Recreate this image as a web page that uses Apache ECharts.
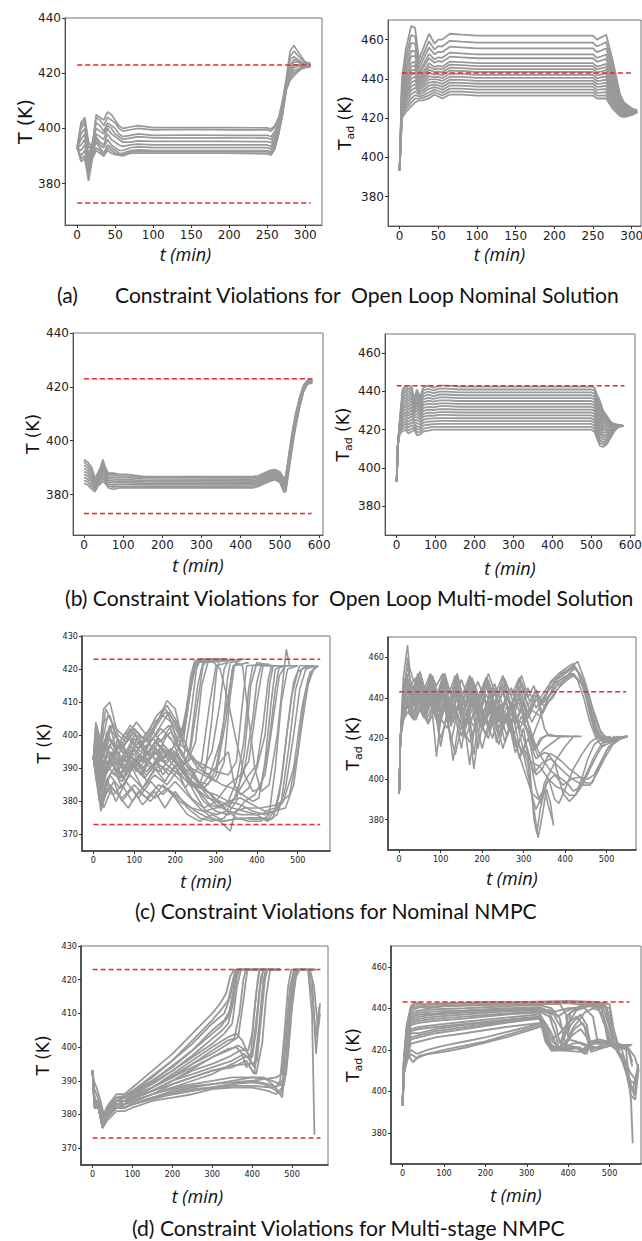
<!DOCTYPE html>
<html>
<head>
<meta charset="utf-8">
<script src="https://cdn.jsdelivr.net/npm/echarts@6/dist/echarts.min.js"></script>
<style>
html, body { margin: 0; padding: 0; background: #fff; }
#chart { width: 642px; height: 1241px; }
</style>
</head>
<body>
<div id="chart"></div>
<script>
// ---- (a) open loop nominal: T ----
const TIME_A = [0,5,10,15,20,25,30,35,40,45,50,55,60,70,80,100,150,200,250,255,260,265,270,275,280,285,290,295,300,307]
const T_OPEN_NOMINAL = [
  [393,402,404,395,393,405,404,403,406,405,403,401,400,400.5,401,400.3,400.3,400.3,400.2,399.8,401,404,410,418,428,430,428,426,424,423.5],
  [393,401,403,393,394,404,403,401,404,403,402,400,399,399.5,400,399.5,399.6,399.5,399.5,399,400.5,403,409,417,426,428,426.5,425,424,423.5],
  [393,400,402,390,395,402,401,399,402,401,400,398,397,397.5,398,397.5,397.6,397.5,397.5,397,399,402,408,417,425,426,425,424,423.5,423],
  [393,398,400,388,394,400,399,398,401,400,398,397,396,396.5,397,396.6,396.6,396.6,396.5,396,398,401,407,416,423,425,424.5,424,423.2,423],
  [393,396,398,386,393,398,397,396,400,398,397,396,395,395,395.5,395.3,395.3,395.3,395.2,394.8,397,400,407,416,422,424,424,423.5,423,422.8],
  [393,394,396,385,392,397,395,394,398,396,395,394,393.5,394,394.3,394,394,394,394,393.5,396,400,406,415,421,423,423,423,422.8,422.8],
  [393,392,394,384,392,396,394,393,396,394,393,392,392,393,393.3,393,393,393,393,392.5,395,399,406,415,420,422,422.5,422.5,422.5,422.5],
  [393,390,392,383,391,395,393,391,394,393,392,391,391,392,392.2,392,392,392,392,391.5,394,399,405,415,419,421,421.5,422,422.3,422.5],
  [393,389,390,382,390,393,392,390,393,392,391,390.5,390.5,391.5,391.6,391.5,391.5,391.5,391.5,391,393,398,405,414,418,420,421,421.8,422.2,422.5],
  [393,388,389,381,389,392,391,390,392,391,390.5,390.3,390,391,391,391,391,391,390.8,390.3,392.5,398,405,414,417.5,419,420.5,421.5,422,422.3]
]

// ---- (a) open loop nominal: Tad ----
const TIME_B = [0,3,8,15,20,25,30,38,45,50,55,65,80,100,250,255,260,267,275,285,290,300,307]
const TAD_OPEN_NOMINAL = [
  [393,440,455,467,466,450,455,463,458,460,460,463,462.5,462,462,460,461,462.5,450,432,428,425,424],
  [393,437.7,451.3,462.3,461.6,447.6,452,459.2,455,456.7,456.5,459.4,459,458.5,458.5,456.6,457.4,458.8,447.1,430.7,427.1,424.6,423.9],
  [393,435.7,448.2,458.3,457.9,445.5,449.5,456,452.5,453.8,453.6,456.4,456,455.5,455.5,453.6,454.4,455.6,444.7,429.7,426.4,424.3,423.8],
  [393,433.8,445,454.2,454.2,443.5,446.9,452.7,449.9,451,450.7,453.4,453,452.5,452.5,450.7,451.4,452.4,442.2,428.6,425.7,423.9,423.7],
  [393,432.5,442.9,451.5,451.7,442.1,445.2,450.6,448.2,449.1,448.7,451.3,451,450.5,450.5,448.7,449.3,450.2,440.6,427.9,425.2,423.7,423.6],
  [393,430.8,440.3,448.2,448.6,440.4,443.1,447.9,446.1,446.7,446.2,448.8,448.5,448,448,446.2,446.8,447.6,438.5,427,424.6,423.4,423.5],
  [393,429.8,438.7,446.2,446.7,439.3,441.8,446.2,444.8,445.3,444.8,447.3,447,446.5,446.5,444.8,445.3,446,437.3,426.4,424.2,423.2,423.5],
  [393,428.9,437.2,444.2,444.8,438.3,440.5,444.6,443.5,443.8,443.3,445.7,445.5,445,445,443.3,443.7,444.4,436.1,425.9,423.8,423.1,423.4],
  [393,427.9,435.6,442.1,442.9,437.3,439.2,443,442.2,442.4,441.8,444.2,444,443.5,443.5,441.8,442.2,442.8,434.8,425.3,423.4,422.9,423.4],
  [393,426.9,434,440.1,441.1,436.2,437.9,441.4,440.9,441,440.3,442.7,442.5,442,442,440.3,440.7,441.2,433.6,424.8,423.1,422.7,423.3],
  [393,425.9,432.4,438.1,439.2,435.2,436.7,439.7,439.7,439.6,438.9,441.1,441,440.5,440.5,438.9,439.1,439.6,432.4,424.2,422.7,422.5,423.3],
  [393,424.9,430.9,436.1,437.3,434.2,435.4,438.1,438.4,438.1,437.4,439.6,439.5,439,439,437.4,437.6,438,431.2,423.7,422.3,422.4,423.2],
  [393,423.9,429.3,434.1,435.5,433.1,434.1,436.5,437.1,436.7,435.9,438.1,438,437.5,437.5,435.9,436.1,436.4,429.9,423.2,422,422.2,423.2],
  [393,423,427.7,432.1,433.6,432.1,432.8,434.9,435.8,435.3,434.4,436.6,436.5,436,436,434.4,434.6,434.8,428.7,422.6,421.6,422,423.1],
  [393,422,426.1,430,431.7,431.1,431.5,433.2,434.5,433.8,432.9,435,435,434.5,434.5,432.9,433,433.2,427.5,422.1,421.2,421.8,423.1],
  [393,421,424.6,428,429.9,430,430.3,431.6,433.3,432.4,431.5,433.5,433.5,433,433,431.5,431.5,431.6,426.2,421.5,420.9,421.7,423],
  [393,420,423,426,428,429,429,430,432,431,430,432,432,431.5,431.5,430,430,430,425,421,420.5,421.5,423]
]

// ---- (b) open loop multi-model: T ----
const TIME_C = [0,5,10,20,28,35,42,48,55,62,75,90,110,150,430,445,460,475,487,500,510,515,520,530,540,550,560,570,583]
const T_OPEN_MULTI = [
  [393,392.5,392,390,386,388,390,393,390,388,388,387.5,387.5,386.8,386.7,387,388,389,389.3,388.5,386,387,392,402,410,416,420.5,422.5,423],
  [392.3,391.4,390.9,389,385.4,387.4,389.3,392,389.3,387.3,387.3,386.9,386.9,386.3,386.2,386.5,387.5,388.5,388.8,388,385.4,386.3,391.3,401.3,409.4,415.5,420.2,422.3,422.8],
  [390.8,390.4,389.9,388,384.8,386.8,388.5,391,388.5,386.6,386.5,386.3,386.3,385.8,385.7,386,387,388,388.4,387.5,384.8,385.5,390.5,400.5,408.8,415,419.9,422.1,422.6],
  [389.6,389.3,388.8,387,384.1,386.1,387.8,390,387.8,385.9,385.8,385.6,385.6,385.2,385.1,385.5,386.5,387.5,387.9,387,384.1,384.8,389.8,399.8,408.1,414.5,419.6,421.9,422.4],
  [388.5,388.3,387.8,386,383.5,385.5,387,389,387,385.3,385,385,385,384.7,384.6,385,386,387,387.4,386.5,383.5,384,389,399,407.5,414,419.3,421.8,422.3],
  [387.4,387.2,386.7,385,382.9,384.9,386.3,388,386.3,384.6,384.3,384.4,384.4,384.2,384.1,384.5,385.5,386.5,386.9,386,382.9,383.3,388.3,398.3,406.9,413.5,418.9,421.6,422.1],
  [386.3,386.1,385.6,384,382.3,384.3,385.5,387,385.5,383.9,383.5,383.8,383.8,383.7,383.6,384,385,386,386.5,385.5,382.3,382.5,387.5,397.5,406.3,413,418.6,421.4,421.9],
  [385.1,385.1,384.6,383,381.6,383.6,384.8,386,384.8,383.2,382.8,383.1,383.1,383.1,383,383.5,384.5,385.5,386,385,381.6,381.8,386.8,396.8,405.6,412.5,418.3,421.2,421.7],
  [384,384,383.5,382,381,383,384,385,384,382.5,382,382.5,382.5,382.6,382.5,383,384,385,385.5,384.5,381,381,386,396,405,412,418,421,421.5]
]

// ---- (b) open loop multi-model: Tad ----
const TIME_D = [0,3,8,15,22,30,38,45,52,60,68,80,95,110,130,160,500,508,515,522,530,540,550,560,570,583]
const TAD_OPEN_MULTI = [
  [393,412,425,441,443,441,443,436,441,437,442,443,442,443,443,442.5,442.5,442,438,435,430,427,424,423,422.5,422],
  [393,412,424.5,439.5,441.5,439.5,441.4,434.9,439.4,435.7,440.5,441.4,440.5,441.5,441.5,441,441,440.5,436.5,433.4,428.7,426,423.5,422.8,422.4,422],
  [393,412,424.1,438.1,439.9,437.9,439.8,433.9,437.8,434.4,438.9,439.9,439.1,439.9,439.9,439.5,439.5,438.9,434.9,431.9,427.5,425.1,422.9,422.5,422.4,422],
  [393,412,423.6,436.6,438.4,436.4,438.2,432.8,436.2,433.1,437.4,438.3,437.6,438.4,438.4,438,438,437.4,433.4,430.3,426.2,424.1,422.4,422.3,422.3,422],
  [393,412,423.1,435.1,436.9,434.9,436.6,431.7,434.6,431.8,435.9,436.7,436.1,436.9,436.9,436.5,436.5,435.9,431.9,428.7,424.9,423.1,421.9,422.1,422.2,422],
  [393,412,422.7,433.7,435.3,433.3,435,430.7,433,430.5,434.3,435.2,434.7,435.3,435.3,435,435,434.3,430.3,427.2,423.7,422.2,421.3,421.8,422.2,422],
  [393,412,422.2,432.2,433.8,431.8,433.4,429.6,431.4,429.2,432.8,433.6,433.2,433.8,433.8,433.5,433.5,432.8,428.8,425.6,422.4,421.2,420.8,421.6,422.1,422],
  [393,412,421.7,430.7,432.3,430.3,431.8,428.5,429.8,427.9,431.3,432,431.7,432.3,432.3,432,432,431.3,427.3,424,421.1,420.2,420.3,421.4,422,422],
  [393,412,421.3,429.3,430.7,428.7,430.2,427.5,428.2,426.6,429.7,430.5,430.3,430.7,430.7,430.5,430.5,429.7,425.7,422.5,419.9,419.3,419.7,421.1,422,422],
  [393,412,420.8,427.8,429.2,427.2,428.6,426.4,426.6,425.3,428.2,428.9,428.8,429.2,429.2,429,429,428.2,424.2,420.9,418.6,418.3,419.2,420.9,421.9,422],
  [393,412,420.3,426.3,427.7,425.7,427,425.3,425,424,426.7,427.3,427.3,427.7,427.7,427.5,427.5,426.7,422.7,419.3,417.3,417.3,418.7,420.7,421.8,422],
  [393,412,419.9,424.9,426.1,424.1,425.4,424.3,423.4,422.7,425.1,425.8,425.9,426.1,426.1,426,426,425.1,421.1,417.8,416.1,416.4,418.1,420.4,421.8,422],
  [393,412,419.4,423.4,424.6,422.6,423.8,423.2,421.8,421.4,423.6,424.2,424.4,424.6,424.6,424.5,424.5,423.6,419.6,416.2,414.8,415.4,417.6,420.2,421.7,422],
  [393,412,418.9,421.9,423.1,421.1,422.2,422.1,420.2,420.1,422.1,422.6,422.9,423.1,423.1,423,423,422.1,418.1,414.6,413.5,414.4,417.1,420,421.6,422],
  [393,412,418.5,420.5,421.5,419.5,420.6,421.1,418.6,418.8,420.5,421.1,421.5,421.5,421.5,421.5,421.5,420.5,416.5,413.1,412.3,413.5,416.5,419.7,421.6,422],
  [393,412,418,419,420,418,419,420,417,417.5,419,419.5,420,420,420,420,420,419,415,411.5,411,412.5,416,419.5,421.5,422]
]

// ---- (c) nominal NMPC: T, each line is t,v,t,v,... ----
const T_NOMINAL_NMPC = [
  [0,393,5,402,15,396,25,408,40,410,60,400,80,398,100,402,130,398,160,405,180,410.5,200,408,215,400,230,410,245,420,255,422.5,300,423],
  [0,393,5,396,15,390,25,404,40,406,60,398,80,395,100,400,130,396,160,402,185,407,205,402,220,398,235,412,250,421,262,422.5,320,423],
  [0,393,5,388,15,380,25,388,45,395,60,390,80,386,100,392,130,388,160,392,190,395,215,390,235,395,255,415,268,422,330,422.5],
  [0,393,5,400,15,384,25,392,45,398,70,395,100,394,130,399,155,394,180,400,210,396,230,392,250,398,265,415,280,422,320,422.5],
  [0,393,8,390,18,378,30,386,50,390,70,384,95,390,120,384,150,390,175,386,200,391,225,384,245,388,265,392,285,410,300,421,330,422],
  [0,393,6,395,15,386,25,397,40,403,60,394,80,390,100,396,130,392,160,398,190,401,215,394,240,390,270,388,300,386,320,392,335,412,345,421,380,422],
  [0,393,5,392,18,377,30,382,50,386,70,380,95,384,120,379,150,383,175,378,200,383,230,378,260,375,290,374,320,375,350,380,370,395,385,415,400,422,440,421],
  [0,393,8,394,20,383,35,390,55,396,80,388,105,393,130,386,160,391,190,389,215,386,240,381,270,378,300,380,330,385,360,388,380,392,400,410,415,421,460,421],
  [0,393,5,398,20,388,35,396,55,400,80,392,110,398,140,393,170,397,200,394,230,389,260,385,290,382,320,378,350,375,380,374,410,374,430,376,445,390,460,410,475,420,500,421],
  [0,393,10,386,22,380,40,385,60,382,85,378,110,383,140,380,170,385,200,381,230,376,260,374,290,376,320,374,360,375,400,374.5,430,375,460,380,480,398,495,414,510,420,530,421],
  [0,393,10,389,25,384,45,389,70,386,95,391,125,387,155,392,185,388,210,392,240,386,270,380,300,377,330,376,370,378,410,378,450,379,480,382,500,395,515,410,530,419,550,421],
  [0,393,8,392,20,386,40,392,65,388,90,394,120,390,150,395,180,391,210,388,240,390,270,383,300,379,330,377,360,376,400,376,440,377,470,378,490,385,510,403,525,415,540,420.5,550,421],
  [0,393,8,399,20,390,40,397,65,392,90,397,120,392,150,398,180,394,210,391,240,386,270,384,300,388,325,405,340,420,350,422,365,421,380,405,395,390,410,383,430,385,450,400,465,418,472,426,480,421,500,421],
  [0,393,6,404,15,395,30,408,45,404,65,396,90,402,120,397,150,403,175,408,200,404,220,399,245,392,270,390,290,395,310,410,320,420,330,422.5,370,423],
  [0,393,10,392,25,381,40,388,65,384,90,388,120,384,150,388,180,385,210,390,240,393,270,391,300,389,330,388,350,392,365,410,375,421,420,421.5],
  [0,393,8,388,20,379,35,386,55,380,80,386,110,381,140,386,170,382,200,386,230,382,260,378,290,375,310,374,335,371,345,376,370,380,395,382,420,388,440,405,455,418,470,421,490,421],
  [0,393,6,397,18,392,35,400,55,396,80,401,110,396,140,402,165,398,190,403,215,397,240,394,265,390,290,387,315,385,340,384,365,382,390,380,405,381,420,392,435,410,445,420,470,421],
  [0,393,10,395,30,390,50,394,75,389,100,393,130,389,160,393,190,390,220,387,250,384,280,381,310,380,340,378,370,377,400,376,425,374,440,375,455,382,470,397,485,412,500,419,520,421,540,421],
  [0,393,8,401,22,393,40,399,60,394,85,399,115,395,145,399,170,396,200,392,225,388,250,385,275,383,300,382,330,380,360,379,390,377,420,376,445,377,465,380,490,390,510,408,525,417,540,420,550,421],
  [0,393,10,396,30,388,55,393,80,389,110,394,140,390,170,396,200,393,225,403,240,416,250,422,290,422.5,310,420,330,410,350,398,370,388,390,383,410,384,430,398,445,414,455,421,480,421],
  [0,393,5,390,15,385,30,392,50,388,75,393,100,390,130,395,160,392,190,396,220,392,250,387,280,383,300,380,320,378,345,381,370,390,390,405,400,416,410,421,440,421],
  [0,393,8,397,20,390,40,395,60,391,85,396,115,392,145,397,175,393,205,398,225,405,240,417,252,422,300,422.5],
  [0,393,10,385,25,378,45,384,70,381,100,385,130,381,160,385,190,383,220,380,250,377,280,375,310,374,340,374.5,380,375,410,375,430,374.5,450,376,470,384,490,400,505,414,520,420,545,421],
  [0,393,8,400,20,395,40,402,65,398,90,403,120,399,150,404,178,407,205,401,230,395,255,390,280,388,305,391,330,395,345,385,360,382,380,384,400,390,420,400,432,416,440,421,470,421],
  [0,393,6,398,18,389,32,401,50,397,75,392,100,399,125,395,150,402,170,406,190,404,210,396,225,405,238,418,248,422.5,310,423],
  [0,393,8,386,20,395,38,391,60,399,85,393,110,400,135,394,160,400,185,403,205,397,222,394,240,408,252,420,262,423,325,422.5],
  [0,393,5,395,15,382,30,389,50,393,70,387,95,392,120,388,150,396,175,392,200,395,220,391,238,396,255,410,268,421,280,423,330,423],
  [0,393,10,390,25,398,45,393,70,398,95,390,120,395,145,390,170,395,195,391,215,388,235,385,255,384,275,390,290,405,302,420,310,423,340,422.5],
  [0,393,5,394,15,388,28,399,45,392,65,387,90,394,115,388,145,394,170,388,200,393,230,387,258,383,285,379,310,378,330,380,350,386,368,398,380,414,390,421,430,421.5],
  [0,393,8,396,22,386,40,393,60,389,85,395,110,391,140,398,165,402,190,399,212,393,235,390,258,386,280,385,300,390,318,403,328,417,335,422,360,422.5],
  [0,393,6,391,18,383,32,394,55,391,80,395,105,389,130,393,160,389,190,393,220,389,250,382,275,377,300,376,325,377,355,383,380,388,400,391,415,403,428,417,436,421,470,421],
  [0,393,10,400,25,394,45,403,70,396,100,401,130,394,160,399,185,395,210,390,235,386,260,384,285,388,310,398,330,412,342,421,380,422],
  [0,393,5,389,15,380,28,384,48,382,70,385,95,380,120,384,150,381,180,384,210,380,240,378,270,377,300,378,330,380,360,381,390,379,420,377,445,378,460,386,475,402,490,416,505,421,540,421],
  [0,393,8,403,20,397,35,406,55,402,80,399,105,404,130,400,155,406,180,409,200,405,220,400,236,412,246,421,256,423,300,423]
]

// ---- (c) nominal NMPC: Tad ----
const TAD_NOMINAL_NMPC = [
  [0,393,3,421,10,450,20,466,25,455,35,448,50,452,65,442,80,451,95,440,110,450,130,439,150,449,170,438,190,448,210,437,230,447,250,436,270,445,290,433,310,445,330,435,350,441,370,446,390,452,410,454,430,458,445,450,460,440,475,428,490,421,510,420,530,420.5,550,421],
  [0,393,3,420,12,441,20,460,28,446,40,450,55,437,70,447,85,432,100,444,120,433,140,446,160,435,180,447,200,431,220,443,240,430,260,442,280,428,300,438,320,428,340,436,360,444,380,449,400,452,420,455,435,452,450,446,465,432,480,422,495,418,515,419,535,420.5,550,421],
  [0,393,3,420,10,434,20,440,35,432,50,444,65,434,80,445,95,423,110,440,130,428,150,443,170,426,190,440,210,429,230,445,250,425,270,438,290,424,305,432,320,420,335,428,355,438,375,447,395,450,415,452,430,449,445,440,460,428,475,420,490,416,510,418,530,420,550,421],
  [0,393,3,420,10,432,20,438,30,430,45,440,60,431,75,443,90,411,100,430,115,425,130,437,150,415,165,434,180,405,195,428,215,420,235,436,255,418,275,430,295,412,310,420,330,410,350,413,370,412,390,409,410,405,430,402,450,398,465,398,480,405,500,414,520,419,550,421],
  [0,393,3,420,10,430,25,434,40,429,55,437,70,428,85,438,100,416,115,433,130,409,145,430,160,420,180,433,200,415,220,431,240,417,260,432,280,413,300,425,315,405,325,380,332,373,340,385,355,398,375,402,395,397,415,400,435,401,455,400,470,402,490,410,505,416,525,419,550,421],
  [0,393,3,421,12,438,22,445,35,437,50,446,65,436,80,448,95,437,110,447,125,430,140,444,160,428,180,442,200,426,220,439,240,425,260,436,280,420,300,412,315,398,325,385,335,371,345,382,355,395,365,388,372,377],
  [0,393,3,420,12,447,22,452,35,443,50,453,65,442,80,450,95,439,110,449,125,435,140,447,155,433,170,446,185,432,200,445,215,431,230,444,245,429,260,442,280,427,300,437,315,423,330,415,345,420,360,422,380,421,400,421],
  [0,393,3,420,10,436,20,441,35,433,50,441,65,432,80,439,100,428,115,440,130,430,150,438,170,407,180,423,195,436,215,425,235,441,255,428,275,437,295,418,310,408,320,392,330,385,345,392,360,400,375,390,385,388,400,395,420,405,440,412,460,418,480,421,500,421],
  [0,393,3,420,10,440,18,452,30,441,45,449,60,439,75,451,90,437,105,448,120,434,135,446,150,431,170,444,190,431,210,446,230,433,250,443,270,431,290,443,310,430,330,439,350,436,370,440,390,447,410,452,425,455,440,450,455,437,470,426,485,420,510,420,550,421],
  [0,393,3,420,10,433,20,436,35,430,50,437,65,429,80,436,95,426,110,437,125,418,140,433,155,423,175,439,190,415,205,432,225,420,245,437,265,424,285,440,300,430,315,418,330,402,345,405,360,412,375,408,395,393,410,389,425,392,440,400,455,410,470,417,490,420,510,421],
  [0,393,3,420,8,428,18,445,30,438,45,450,60,440,75,447,90,434,105,445,120,432,140,450,160,436,175,446,195,433,215,449,235,433,255,447,275,433,295,447,315,433,330,441,350,438,365,448,385,452,405,455,420,457,432,452,448,442,462,430,475,421,495,418,520,420,550,421],
  [0,393,3,420,10,431,20,436,35,429,50,435,70,427,85,434,100,420,115,430,135,412,150,426,170,418,190,431,210,421,230,433,250,415,270,429,290,410,305,418,325,403,345,408,365,410,385,406,405,402,425,399,445,397,460,397,475,402,495,410,515,417,535,420,550,421],
  [0,393,3,420,10,437,20,443,35,436,50,443,65,433,80,441,95,430,110,441,125,429,140,441,155,425,175,440,195,427,215,438,235,418,255,432,275,421,295,431,310,424,325,414,340,420,355,421.5,380,421,410,421],
  [0,393,3,421,10,439,20,446,35,438,50,445,65,435,80,446,95,433,110,444,125,428,140,442,160,427,180,440,200,424,220,438,240,421,260,433,280,418,300,405,320,393,335,390,350,395,362,385,372,378],
  [0,393,3,420,10,442,20,449,35,440,50,448,65,437,80,446,95,436,110,444,125,431,140,442,160,431,180,446,200,429,220,442,240,428,260,440,280,430,300,427,320,419,335,411,350,415,370,418,390,421,410,421,430,421],
  [0,393,3,420,12,431,22,437,35,432,50,439,65,431,80,440,95,428,110,438,125,426,140,436,160,425,180,437,200,424,220,434,240,421,260,431,280,416,300,415,320,408,340,406,360,400,380,396,395,395,410,392,425,392,445,398,460,405,480,413,500,419,520,421],
  [0,393,3,420,10,446,20,455,32,444,45,451,60,441,75,449,90,441,105,450,120,438,135,448,150,437,170,448,190,437,210,450,230,437,250,446,270,436,290,449,310,436,330,444,345,432,360,438,380,444,400,448,420,451,440,447,455,441,470,433,485,424,500,420,530,420.5,550,421],
  [0,393,3,420,10,444,20,449,32,439,45,447,60,436,75,448,90,438,105,451,120,437,135,449,150,434,170,450,190,435,210,448,230,435,250,450,270,434,290,446,310,432,325,441,340,440,360,446,380,450,400,453,420,456,438,451,452,444,466,430,480,421,500,419,525,420,550,421],
  [0,393,3,420,10,432,20,439,32,435,45,442,60,434,75,444,90,432,105,443,120,431,135,443,150,430,170,444,190,429,210,442,230,430,250,444,270,427,290,440,305,428,320,434,340,431,360,440,380,446,400,449,420,452,440,447,455,438,470,425,485,419,505,418,530,420,550,421],
  [0,393,3,421,10,439,20,448,30,440,45,452,60,444,75,452,90,446,105,452,120,442,135,451,150,440,170,451,190,440,210,450,230,441,250,451,270,441,290,450,310,440,325,446,340,434,350,425,360,421.5,390,421],
  [0,393,3,420,10,429,20,433,30,431,45,436,60,430,75,437,90,429,105,437,120,428,135,436,150,421,165,431,180,426,200,435,220,425,240,434,260,421,280,433,300,420,315,410,330,395,340,388,350,398,365,404,380,410,400,416,420,421,440,421],
  [0,393,3,420,10,441,20,446,32,436,45,445,60,435,75,445,90,433,105,446,120,433,135,444,150,430,165,441,180,412,190,428,205,440,225,432,245,446,265,433,285,445,300,433,315,425,330,416,345,410,365,404,385,401,405,398,420,394,435,396,450,402,470,411,490,418,510,420,530,421],
  [0,393,3,420,10,437,22,444,35,441,50,448,65,440,80,450,95,441,110,452,125,441,140,452,155,439,175,450,195,439,215,452,235,440,255,449,275,438,295,451,315,438,330,444,345,437,365,442,385,448,405,451,425,455,442,449,458,439,472,427,488,420,510,419,535,420,550,421]
]

// ---- (d) multi-stage NMPC: T ----
const T_MULTISTAGE_NMPC = [
  [0,393,3,390,10,388,20,384,28,380,40,383,60,386,80,386,100,388,150,393,200,398,250,404,300,410,320,413,335,416,345,421,355,423,400,423,450,423],
  [0,393,3,385,10,384,20,381,28,378,40,382,60,385,80,385,100,387,150,391,200,396,250,401,300,407,330,410,345,415,355,421,365,423,420,423],
  [0,393,5,383,15,383,25,377,35,380,60,384,80,384,100,386,150,389,200,393,250,397,300,401,330,404,350,407,362,418,372,423,430,423],
  [0,393,5,382,15,382,25,376,35,379,60,383,80,383,100,385,150,388,200,391,250,395,300,398,340,401,365,403,378,414,388,423,440,423],
  [0,393,5,384,15,383,25,378,35,381,60,384,80,384,100,385,150,387,200,390,250,393,300,395,340,397,370,399,390,399,400,404,410,416,418,423,470,423],
  [0,393,5,382,15,382,25,376,35,379,60,382,80,383,100,384,150,386,200,388,250,390,300,392,350,395,380,397,400,397,410,405,420,418,428,423,470,423],
  [0,393,5,383,15,382,25,377,35,380,60,382,80,382,100,383,150,385,200,386,250,387,300,388,350,389,400,390,440,389,460,388,470,390,480,403,490,418,498,423,560,423],
  [0,393,5,382,15,382,25,376,35,378,60,381,80,381,100,382,150,384,200,385,250,386,300,387.5,350,388,400,388,440,387,460,386,475,388,485,402,495,416,505,423,560,423],
  [0,393,5,383,15,383,25,377,35,380,60,382,80,383,100,384,150,386,200,387.5,250,388.5,300,389,350,390,400,391,430,391,450,389,465,387,475,385,485,395,495,412,505,421,515,423,540,423,550,410,556,374],
  [0,393,5,384,15,383,25,378,35,381,60,383,80,384,100,385,150,387,200,389,250,391,300,393,350,394,385,396,400,393,410,392,425,401,435,415,445,423,470,423],
  [0,393,5,383,15,382,25,377,35,379,60,382,80,382,100,383,150,385,200,386.5,250,387.5,300,388,350,388.5,400,388.5,450,388,480,389,490,398,500,412,510,421,520,423,545,423,555,418,565,405,570,410],
  [0,393,5,384,15,384,25,379,35,382,60,385,80,385,100,386,150,390,200,394,250,399,300,404,320,406,340,409,352,416,360,423,420,423],
  [0,393,5,382,15,382,25,376,35,379,60,382,80,382,100,383,150,385,200,387,250,388,300,389,350,389.5,400,390,430,390.5,460,391,475,392,485,405,495,418,505,423,540,423,550,420,560,398,570,413],
  [0,393,5,384,15,383,25,378,35,381,60,384,80,384,100,386,150,388,200,392,250,396,300,400,340,403,360,404,375,402,390,398,400,397,412,410,422,421,430,423,470,423],
  [0,393,5,383,15,383,25,377,35,380,60,383,80,383,100,385,150,387,200,390,250,392,300,394,350,396,380,398,395,396,405,394,418,407,428,420,435,423,470,423],
  [0,393,5,383,15,382,25,377,35,380,60,382,80,383,100,384,150,386,200,388,250,389,300,390,350,391,400,391,440,390.5,470,389,485,392,495,406,505,419,515,423,540,423,550,416,560,403,568,412],
  [0,393,5,383,15,382,25,377,35,380,60,383,80,383,100,384.5,150,387,200,390,250,393.5,300,397,340,399.5,360,400,375,398,385,394,395,395,405,410,415,421,420,423,470,423],
  [0,393,5,384,15,384,25,378,35,381,60,384,80,385,100,387,150,390,200,394.5,250,399,300,405,330,408,345,411,357,419,365,423,430,423],
  [0,393,5,383,15,383,25,377,35,380,60,383,80,383,100,385,150,388,200,391.5,250,395,300,399,340,402,355,402.5,368,410,378,420,384,423,440,423],
  [0,393,5,382,15,382,25,376,35,379,60,382,80,382,100,383.5,150,386,200,389,250,391,300,393,350,394.5,390,395,405,392,418,404,428,418,435,423,470,423],
  [0,393,5,384,15,383,25,378,35,381,60,384,80,385,100,386.5,150,389.5,200,393,250,397.5,300,402.5,325,405,340,407,352,413,362,421,368,423,430,423],
  [0,393,5,383,15,382,25,377,35,379,60,382,80,382,100,383,150,384.5,200,386,250,387,300,388,350,389,400,389.5,430,389,455,387.5,470,386,480,389,490,403,500,417,508,423,560,423],
  [0,393,5,384,15,384,25,378,35,381,60,384,80,384,100,385.5,150,388,200,391,250,394,300,397,340,399,365,400.5,385,399,400,395,412,396,422,408,432,420,438,423,470,423],
  [0,393,3,388,10,386,20,382,28,379,40,382,60,385,80,385.5,100,387,150,391.5,200,396,250,402,300,408,325,411.5,340,414,350,419,358,423,420,423]
]

// ---- (d) multi-stage NMPC: Tad ----
const TAD_MULTISTAGE_NMPC = [
  [0,393,3,415,10,432,20,441,30,443,50,442,100,442.5,200,443,300,443,400,443.5,470,443,500,442,510,430,520,423,540,422,555,422.5],
  [0,393,3,413,10,430,20,440,35,441,60,440,100,441,200,441.5,300,442,350,442,400,442.5,460,441,480,440,495,430,505,422,530,421,550,422],
  [0,393,3,412,10,426,20,436,40,437,80,437.5,150,438.5,250,439.5,330,440,360,438,400,440,440,440,460,436,470,425,480,421,500,422,520,423],
  [0,393,3,411,10,423,20,432,40,433,80,434,150,435,250,437,330,438,345,432,360,425,380,428,400,433,420,436,440,431,450,422,470,421,500,422],
  [0,393,3,410,10,420,20,428,40,428,80,430,150,432,250,434,330,436,345,428,360,421,380,421,400,425,420,424,440,422,460,423,490,423,510,422,530,415,545,407,560,398,568,412],
  [0,393,3,409,10,417,20,423,40,424,80,426,150,428,250,431,335,433,345,426,360,420,380,420,400,421,420,421,440,418,450,423,470,424,500,423,520,420,540,412,555,400,570,413],
  [0,393,3,408,10,415,20,418,35,416,60,418,100,420,150,422,200,424,250,427,300,430,335,432,345,424,360,419.5,400,420,420,421,440,420,460,423,480,424,500,423,520,422,540,420,552,395,556,375],
  [0,393,3,414,10,428,20,438,40,439,80,439.5,150,440,250,441,330,441.5,360,440,380,435,390,425,400,437,430,441,460,442,480,441,500,440,510,427,520,421,545,422.5],
  [0,393,3,412,10,424,20,434,40,435,80,436,150,437,250,438.5,330,439,365,437,385,430,395,422,410,430,440,438,460,440,475,439,490,431,500,423,515,421,540,422,560,417,570,411],
  [0,393,3,410,10,418,20,425,40,426,80,428,150,430,250,433,330,435,345,429,355,422,375,421,400,422,430,421,445,418,455,424,475,425,495,424,510,421,530,420,550,405,560,404],
  [0,393,3,413,10,427,20,437,40,438,80,438.5,150,439,250,440,330,440.5,350,439,370,432,380,423,395,431,420,439,450,441,470,440.5,485,436,495,425,510,421,540,422],
  [0,393,3,411,10,421,20,430,40,431,80,432,150,433.5,250,435.5,330,437,345,433,360,428,375,420,390,422,410,427,430,430,445,426,455,420,480,422,500,423.5,520,423],
  [0,393,3,409,10,414,15,417,25,414,40,417,60,418,100,419,150,421,200,423.5,250,426,300,429,340,431.5,348,425,360,420,400,419.5,430,419,440,421,460,423,490,424,510,423,525,418,540,409,552,398,562,396,570,411],
  [0,393,3,414,10,429,20,439,40,440.5,80,441,150,441.5,250,442,330,442.5,380,442,395,437,400,426,405,438,440,442.5,470,442,490,441,500,432,510,423,530,422,550,422.5],
  [0,393,3,412,10,425,20,433,40,434,80,435,150,436,250,437.5,330,438.5,355,436,370,427,378,420,390,426,410,433,430,437,445,432,455,419,470,420,500,422,520,422.5,545,420,555,412],
  [0,393,3,413,10,427,20,435,40,436,80,437,150,438,250,439,330,439.5,360,439,375,436,390,438,410,440,440,441,465,441.5,485,440,498,432,508,423,530,422,550,422],
  [0,393,3,411,10,422,20,429,40,430,80,431,150,432.5,250,434.5,330,436,348,431,362,424,378,421,395,424,415,430,435,433,448,428,458,421,480,421,505,422,525,421],
  [0,393,3,410,10,419,20,426,40,427,80,429,150,431,250,433.5,330,435.5,345,430,358,423,372,420,390,421,410,423,430,423.5,450,422,470,424,495,424,515,421,535,416,550,409,565,405,570,410],
  [0,393,3,409,10,416,20,420,35,418,60,420,100,422,150,424,200,426,250,428.5,300,431,338,433,346,425,360,421,400,421,430,420.5,445,420,455,423,480,424,500,423.5,520,422,545,421,555,414],
  [0,393,3,415,10,431,20,440,30,442,50,441.5,100,442,200,442.5,300,442.5,350,442.5,400,443,440,442.5,470,442.5,490,441.5,500,436,510,426,520,422,545,422.5]
]

const T_LIMITS = [373, 423]
const TAD_LIMITS = [443]
const X_TICKS_300 = [0, 50, 100, 150, 200, 250, 300]
const X_TICKS_600 = [0, 100, 200, 300, 400, 500, 600]
const X_TICKS_500 = [0, 100, 200, 300, 400, 500]
const T_TICKS_20 = [380, 400, 420, 440]
const T_TICKS_10 = [370, 380, 390, 400, 410, 420, 430]
const TAD_TICKS = [380, 400, 420, 440, 460]

const GRAY = '#999999'
const RED = '#e8282b'
const T_NAME = 'T (K)'
const TAD_NAME = '{t|T}{s|ad}{t| (K)}'

function withTimes(times, vals) {
  return vals.map((v, i) => [times[i], v])
}
function flatPairs(arr) {
  const out = []
  for (let i = 0; i < arr.length; i += 2) out.push([arr[i], arr[i + 1]])
  return out
}

// one entry per subplot
const panels = [
  { grid: { left: 65, top: 18, width: 257, height: 207 }, x: [-16, 322], y: [365, 440], xt: X_TICKS_300, yt: T_TICKS_20,
    lines: T_OPEN_NOMINAL.map(v => withTimes(TIME_A, v)), limits: T_LIMITS, span: [0, 307],
    yName: T_NAME, yGap: 30, ySize: 19, xGap: 20, xPad: 16, lw: 1.7, small: false },
  { grid: { left: 388, top: 20, width: 253, height: 206 }, x: [-15, 312], y: [365, 470], xt: X_TICKS_300, yt: TAD_TICKS,
    lines: TAD_OPEN_NOMINAL.map(v => withTimes(TIME_B, v)), limits: TAD_LIMITS, span: [3, 300],
    yName: TAD_NAME, yGap: 32, ySize: 17, xGap: 19, xPad: 30, lw: 1.8, small: false },
  { grid: { left: 73, top: 333, width: 250, height: 202 }, x: [-28, 610], y: [365, 440], xt: X_TICKS_600, yt: T_TICKS_20,
    lines: T_OPEN_MULTI.map(v => withTimes(TIME_C, v)), limits: T_LIMITS, span: [0, 581],
    yName: T_NAME, yGap: 32, ySize: 17, xGap: 21, xPad: 0, lw: 1.7, small: false },
  { grid: { left: 385, top: 334, width: 250, height: 201 }, x: [-30, 612], y: [365, 470], xt: X_TICKS_600, yt: TAD_TICKS,
    lines: TAD_OPEN_MULTI.map(v => withTimes(TIME_D, v)), limits: TAD_LIMITS, span: [0, 585],
    yName: TAD_NAME, yGap: 30, ySize: 17, xGap: 24, xPad: 0, lw: 1.8, small: false },
  { grid: { left: 82, top: 636, width: 248, height: 215 }, x: [-28, 579], y: [365, 430], xt: X_TICKS_500, yt: T_TICKS_10,
    lines: T_NOMINAL_NMPC.map(flatPairs), limits: T_LIMITS, span: [0, 555],
    yName: T_NAME, yGap: 30, ySize: 17, xGap: 21, xPad: 0, lw: 1.6, small: true },
  { grid: { left: 388, top: 637, width: 248, height: 213 }, x: [-27, 571], y: [365, 470], xt: X_TICKS_500, yt: TAD_TICKS,
    lines: TAD_NOMINAL_NMPC.map(flatPairs), limits: TAD_LIMITS, span: [0, 547],
    yName: TAD_NAME, yGap: 24, ySize: 17, xGap: 19, xPad: 0, lw: 1.6, small: true },
  { grid: { left: 81, top: 946, width: 247, height: 219 }, x: [-29, 590], y: [365, 430], xt: X_TICKS_500, yt: T_TICKS_10,
    lines: T_MULTISTAGE_NMPC.map(flatPairs), limits: T_LIMITS, span: [0, 571],
    yName: T_NAME, yGap: 30, ySize: 17, xGap: 22, xPad: 14, lw: 1.8, small: true },
  { grid: { left: 391, top: 946, width: 250, height: 218 }, x: [-28, 576], y: [365, 470], xt: X_TICKS_500, yt: TAD_TICKS,
    lines: TAD_MULTISTAGE_NMPC.map(flatPairs), limits: TAD_LIMITS, span: [0, 548],
    yName: TAD_NAME, yGap: 27, ySize: 17, xGap: 22, xPad: 0, lw: 1.9, small: true }
]

const CAPTIONS = [
  { text: '(a)', x: 57, y: 297 },
  { text: 'Constraint Violations for  Open Loop Nominal Solution', x: 115, y: 297 },
  { text: '(b) Constraint Violations for  Open Loop Multi-model Solution', x: 65, y: 600 },
  { text: '(c) Constraint Violations for Nominal NMPC', x: 135, y: 913 },
  { text: '(d) Constraint Violations for Multi-stage NMPC', x: 132, y: 1230 }
]

const grids = [], xAxes = [], yAxes = [], series = []
panels.forEach((p, i) => {
  const lblFont = p.small
    ? { fontFamily: "'DejaVu Sans Condensed', 'DejaVu Sans'", fontSize: 9, color: '#222' }
    : { fontFamily: "'DejaVu Sans'", fontSize: 12, color: '#222' }
  const axisColor = p.small ? '#333' : '#555'
  grids.push(Object.assign({ show: true, borderColor: '#777', borderWidth: 1, containLabel: false, outerBoundsMode: 'none' }, p.grid))
  xAxes.push({
    type: 'value', gridIndex: i, min: p.x[0], max: p.x[1],
    axisLine: { show: true, onZero: false, lineStyle: { color: axisColor, width: p.small ? 1.5 : 1 } },
    axisTick: { show: true, length: 3, customValues: p.xt, lineStyle: { color: '#333' } },
    axisLabel: Object.assign({ customValues: p.xt, margin: 4 }, lblFont),
    splitLine: { show: false },
    name: 't (min)', nameLocation: 'middle', nameGap: p.xGap,
    nameTextStyle: { fontFamily: "'Open Sans'", fontStyle: 'italic', fontSize: 18, color: '#111', padding: [0, p.xPad, 0, 0] }
  })
  yAxes.push({
    type: 'value', gridIndex: i, min: p.y[0], max: p.y[1],
    axisLine: { show: true, onZero: false, lineStyle: { color: axisColor, width: p.small ? 1.5 : 1 } },
    axisTick: { show: true, length: 3, customValues: p.yt, lineStyle: { color: '#333' } },
    axisLabel: Object.assign({ customValues: p.yt, margin: 4 }, lblFont),
    splitLine: { show: false },
    name: p.yName, nameLocation: 'middle', nameGap: p.yGap,
    nameTextStyle: {
      fontFamily: "'DejaVu Sans'", fontSize: p.ySize, color: '#111',
      rich: {
        t: { fontFamily: "'DejaVu Sans'", fontSize: p.ySize, color: '#111', lineHeight: 22, verticalAlign: 'middle' },
        s: { fontFamily: "'DejaVu Sans'", fontSize: 11, color: '#111', lineHeight: 11, verticalAlign: 'bottom' }
      }
    }
  })
  p.lines.forEach(pts => {
    series.push({
      type: 'line', xAxisIndex: i, yAxisIndex: i, data: pts,
      showSymbol: false, symbol: 'none', silent: true, z: 2,
      lineStyle: { color: GRAY, width: p.lw }
    })
  })
  p.limits.forEach(v => {
    series.push({
      type: 'line', xAxisIndex: i, yAxisIndex: i, data: [[p.span[0], v], [p.span[1], v]],
      showSymbol: false, symbol: 'none', silent: true, z: 5,
      lineStyle: { color: RED, width: 1.5, type: [5, 3] }
    })
  })
})

const chart = echarts.init(document.getElementById('chart'), null, { renderer: 'svg' })
chart.setOption({
  animation: false,
  backgroundColor: '#fff',
  grid: grids,
  xAxis: xAxes,
  yAxis: yAxes,
  series: series,
  graphic: CAPTIONS.map(c => ({
    type: 'text', left: c.x, top: c.y - 13, silent: true,
    style: { text: c.text, fontFamily: "'Lato'", fontSize: 21.1, fill: '#111' }
  }))
})
</script>
</body>
</html>
